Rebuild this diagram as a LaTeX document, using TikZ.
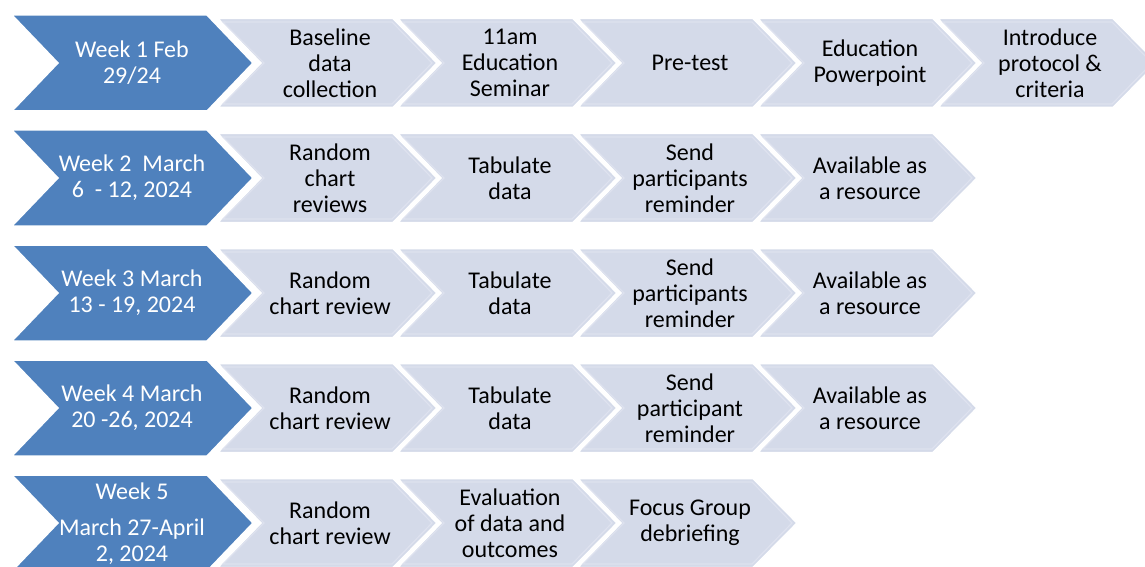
\documentclass[tikz,border=0pt]{standalone}
\usepackage{fontspec}
\setmainfont{Carlito}
\definecolor{weekblue}{HTML}{4F81BD}
\definecolor{tasklight}{HTML}{D4DAE9}
\definecolor{taskrim}{HTML}{DEE2EF}
\begin{document}
\begin{tikzpicture}[x=1pt,y=-1pt,line width=1.5pt,
  week/.style={fill=weekblue,draw=white},
  task/.style={fill=tasklight,draw=white},
  rim/.style={draw=taskrim,line width=1.2pt},
  every node/.style={font=\fontsize{24}{26}\selectfont,align=center,inner sep=1pt},
  weektext/.style={text=white},
  tasktext/.style={text=black}]
\useasboundingbox (0,0) rectangle (1145,567);
\foreach \y in {63,178,293,408,523}
  \draw[week] (12,\y-48) -- (207,\y-48) -- (253,\y) -- (207,\y+48) -- (12,\y+48) -- (58,\y) -- cycle;
\foreach \y/\n in {63/5,178/4,293/4,408/4,523/3}
  \foreach \i in {1,...,\n} {
    \pgfmathsetmacro\x{38+180*\i}
    \draw[task] (\x,\y-44.5) -- (\x+175,\y-44.5) -- (\x+219,\y) -- (\x+175,\y+44.5) -- (\x,\y+44.5) -- (\x+43,\y) -- cycle;
    \draw[rim] (\x+5,\y-41) -- (\x+174,\y-41) -- (\x+214,\y) -- (\x+174,\y+41) -- (\x+5,\y+41) -- (\x+46,\y) -- cycle;
  }
\node[weektext] (w1) at (132,63) {Week 1 Feb\\29/24};
\node[tasktext] (base1) at (330,63) {Baseline\\data\\collection};
\node[tasktext] (seminar1) at (510,63) {11am\\Education\\Seminar};
\node[tasktext] (pretest1) at (690,63) {Pre-test};
\node[tasktext] (ppt1) at (870,63) {Education\\Powerpoint};
\node[tasktext] (protocol1) at (1050,63) {Introduce\\protocol \&\\criteria};
\node[weektext] (w2) at (132,178) {Week 2~~March\\6~~- 12, 2024};
\node[tasktext] (review2) at (330,178) {Random\\chart\\reviews};
\node[tasktext] (tab2) at (510,178) {Tabulate\\data};
\node[tasktext] (remind2) at (690,178) {Send\\participants\\reminder};
\node[tasktext] (res2) at (870,178) {Available as\\a resource};
\node[weektext] (w3) at (132,293) {Week 3 March\\13 - 19, 2024};
\node[tasktext] (review3) at (330,293) {Random\\chart review};
\node[tasktext] (tab3) at (510,293) {Tabulate\\data};
\node[tasktext] (remind3) at (690,293) {Send\\participants\\reminder};
\node[tasktext] (res3) at (870,293) {Available as\\a resource};
\node[weektext] (w4) at (132,408) {Week 4 March\\20 -26, 2024};
\node[tasktext] (review4) at (330,408) {Random\\chart review};
\node[tasktext] (tab4) at (510,408) {Tabulate\\data};
\node[tasktext] (remind4) at (690,408) {Send\\participant\\reminder};
\node[tasktext] (res4) at (870,408) {Available as\\a resource};
\node[weektext] (w5) at (132,524) {Week 5\\[10pt]March 27-April\\2, 2024};
\node[tasktext] (review5) at (330,523) {Random\\chart review};
\node[tasktext] (eval5) at (510,523) {Evaluation\\of data and\\outcomes};
\node[tasktext] (focus5) at (690,523) {Focus Group\\debriefing};
\end{tikzpicture}
\end{document}
